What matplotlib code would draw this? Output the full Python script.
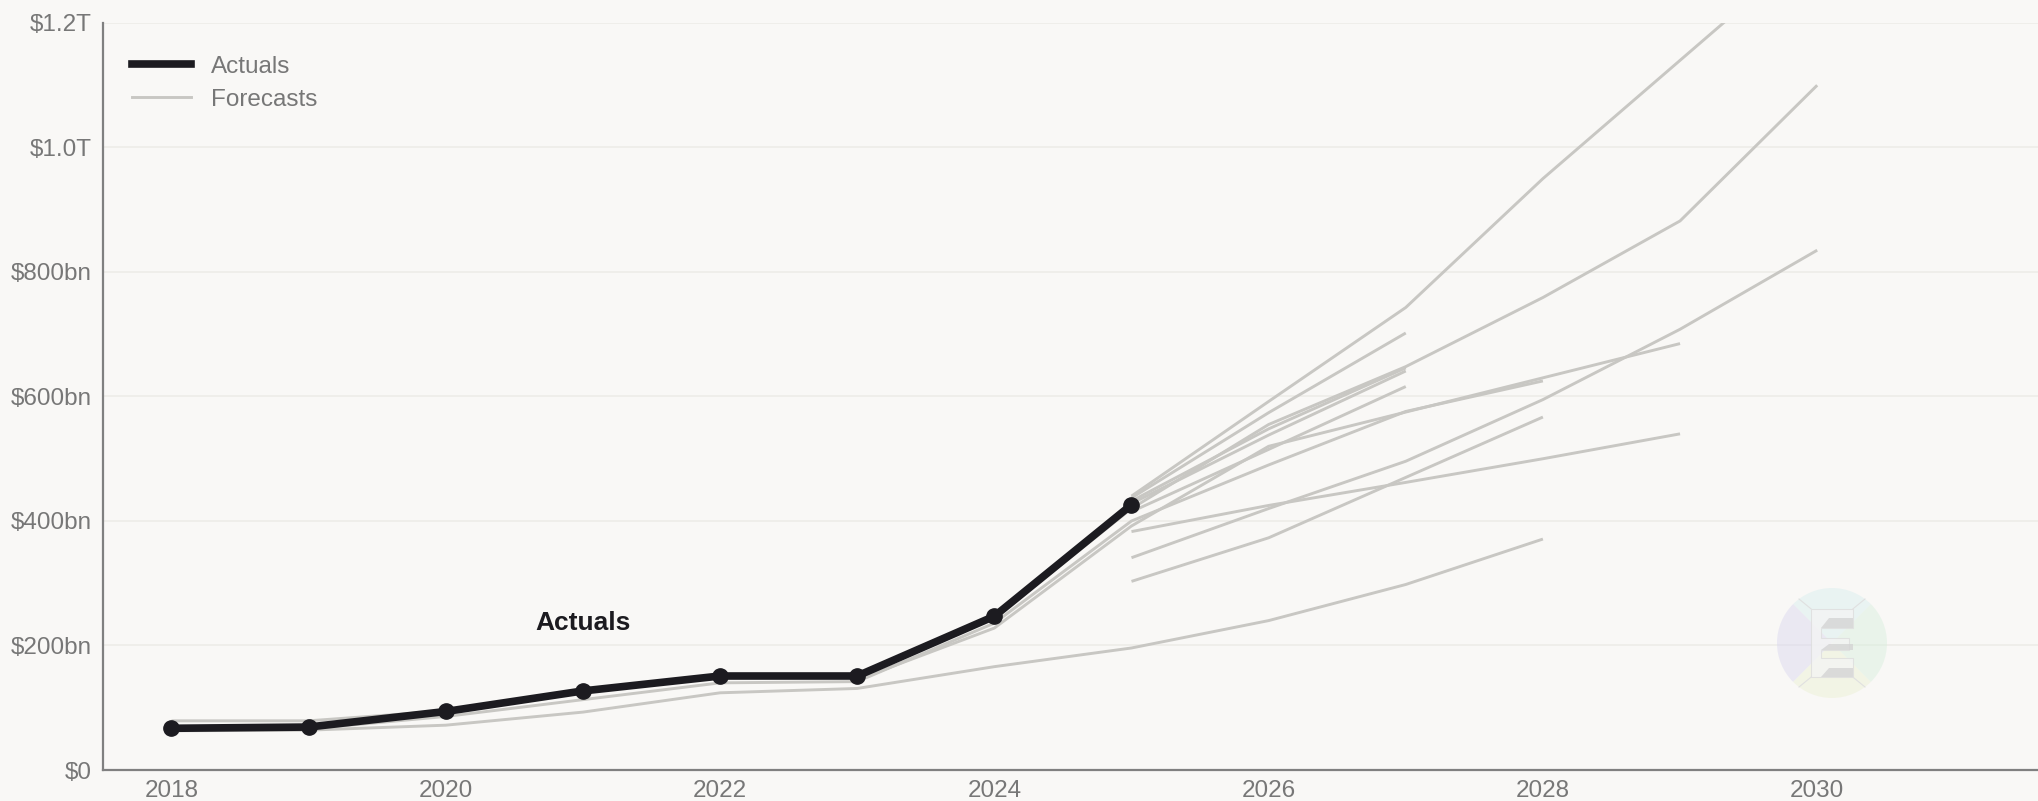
import matplotlib.pyplot as plt
from matplotlib.lines import Line2D
from matplotlib.patches import Wedge, Polygon

plt.rcParams['font.family'] = ['Liberation Sans', 'DejaVu Sans']

# actual spending, $bn
actual_years = [2018, 2019, 2020, 2021, 2022, 2023, 2024, 2025]
actual_vals = [67, 69, 94, 127, 151, 151, 247, 426]

# forecast vintages, $bn
fc_b_years = list(range(2018, 2031))
fc_b_vals = [79, 79, 95, 128, 150, 152, 244, 420, 555, 648, 759, 882, 1100]

fc_low_years = list(range(2018, 2029))
fc_low_vals = [63, 64, 72, 93, 124, 131, 166, 196, 240, 298, 371]

fc_mid_years = list(range(2018, 2029))
fc_mid_vals = [66, 66, 86, 113, 140, 142, 236, 400, 490, 576, 625]

fc_e29_years = [2023, 2024, 2025, 2026, 2027, 2028, 2029]
fc_e29_vals = [145, 228, 392, 520, 575, 630, 685]

fc_a_years = [2025, 2026, 2027, 2028, 2029, 2030]
fc_a_vals = [440, 592, 743, 950, 1140, 1330]

fc_27a_years = [2025, 2026, 2027]
fc_27a_vals = [437, 574, 702]

fc_27b_years = [2025, 2026, 2027]
fc_27b_vals = [432, 548, 646]

fc_27c_years = [2025, 2026, 2027]
fc_27c_vals = [428, 538, 641]

fc_27d_years = [2025, 2026, 2027]
fc_27d_vals = [415, 515, 616]

fc_c_years = [2025, 2026, 2027, 2028, 2029, 2030]
fc_c_vals = [341, 420, 496, 595, 708, 835]

fc_29b_years = [2025, 2026, 2027, 2028, 2029]
fc_29b_vals = [383, 425, 462, 500, 540]

fc_28b_years = [2025, 2026, 2027, 2028]
fc_28b_vals = [303, 373, 470, 567]

forecasts = [
    (fc_b_years, fc_b_vals), (fc_low_years, fc_low_vals),
    (fc_mid_years, fc_mid_vals), (fc_e29_years, fc_e29_vals),
    (fc_a_years, fc_a_vals), (fc_27a_years, fc_27a_vals),
    (fc_27b_years, fc_27b_vals), (fc_27c_years, fc_27c_vals),
    (fc_27d_years, fc_27d_vals), (fc_c_years, fc_c_vals),
    (fc_29b_years, fc_29b_vals), (fc_28b_years, fc_28b_vals),
]

x_ticks = [2018, 2020, 2022, 2024, 2026, 2028, 2030]
y_ticks = [0, 200, 400, 600, 800, 1000, 1200]
y_labels = ['$0', '$200bn', '$400bn', '$600bn', '$800bn', '$1.0T', '$1.2T']

bg = '#f9f8f6'
grey = '#c8c7c3'
black = '#1c1b20'
txt = '#777777'

fig = plt.figure(figsize=(20.38, 8.01), dpi=100, facecolor=bg)
ax = fig.add_axes([0.0505, 0.0387, 0.9495, 0.9326])
ax.set_facecolor(bg)

for yrs, vals in forecasts:
    ax.plot(yrs, vals, color=grey, lw=2.1, zorder=2, solid_capstyle='butt')

ax.plot(actual_years, actual_vals, color=black, lw=5.5, marker='o', ms=11,
        zorder=4, solid_joinstyle='round')

ax.set_xlim(2017.5, 2031.61)
ax.set_ylim(0, 1200)
ax.set_xticks(x_ticks)
ax.set_yticks(y_ticks)
ax.set_yticklabels(y_labels)
ax.tick_params(length=0, labelsize=17.5, labelcolor=txt)
ax.tick_params(axis='x', pad=7)
ax.tick_params(axis='y', pad=8)
ax.grid(axis='y', color='#eeede9', lw=1.3, zorder=0)
ax.set_axisbelow(True)
for s in ['top', 'right']:
    ax.spines[s].set_visible(False)
for s in ['left', 'bottom']:
    ax.spines[s].set_color('#808080')
    ax.spines[s].set_linewidth(1.6)

ax.text(2021, 236, 'Actuals', ha='center', va='center', fontsize=19,
        fontweight='bold', color=black)

handles = [Line2D([], [], color=black, lw=5.5),
           Line2D([], [], color=grey, lw=2.1)]
leg = ax.legend(handles, ['Actuals', 'Forecasts'], loc='upper left',
                bbox_to_anchor=(0.015, 0.956), frameon=False, fontsize=17.5,
                handlelength=2.45, handletextpad=0.8, labelspacing=0.45,
                borderpad=0, borderaxespad=0)
for t in leg.get_texts():
    t.set_color(txt)

# watermark logo
lax = fig.add_axes([(1832 - 55) / 2038, (801 - 643 - 55) / 801, 110 / 2038, 110 / 801])
lax.set_xlim(-1, 1)
lax.set_ylim(-1, 1)
lax.set_aspect('equal')
lax.axis('off')
for t1, t2, c in [(45, 135, '#d6eeee'), (135, 225, '#d8d5ef'),
                  (225, 315, '#ebf0d2'), (-45, 45, '#d6efdc')]:
    lax.add_patch(Wedge((0, 0), 1, t1, t2, color=c, alpha=0.45, lw=0))
for sx, sy in [(-1, 1), (1, 1), (-1, -1), (1, -1)]:
    lax.plot([sx * 0.38, sx * 0.6], [sy * 0.62, sy * 0.8], color='#e0e0e0', lw=0.8)
e_shape = [(-0.38, 0.62), (0.38, 0.62), (0.38, 0.28), (-0.2, 0.28), (-0.2, 0.1),
           (0.3, 0.1), (0.3, -0.12), (-0.2, -0.12), (-0.2, -0.28), (0.38, -0.28),
           (0.38, -0.62), (-0.38, -0.62)]
lax.add_patch(Polygon(e_shape, closed=True, fc='#f4f4f4', ec='#dddddd', lw=0.8,
                      alpha=0.8))
for ys in [(0.45, 0.28), (-0.02, -0.12), (-0.45, -0.62)]:
    lax.add_patch(Polygon([(-0.2, ys[1]), (0.38, ys[1]), (0.38, ys[0]),
                           (-0.05, ys[0])], closed=True, fc='#d4d4d4', lw=0,
                          alpha=0.8))

fig.savefig('out.png', dpi=100, facecolor=bg)
